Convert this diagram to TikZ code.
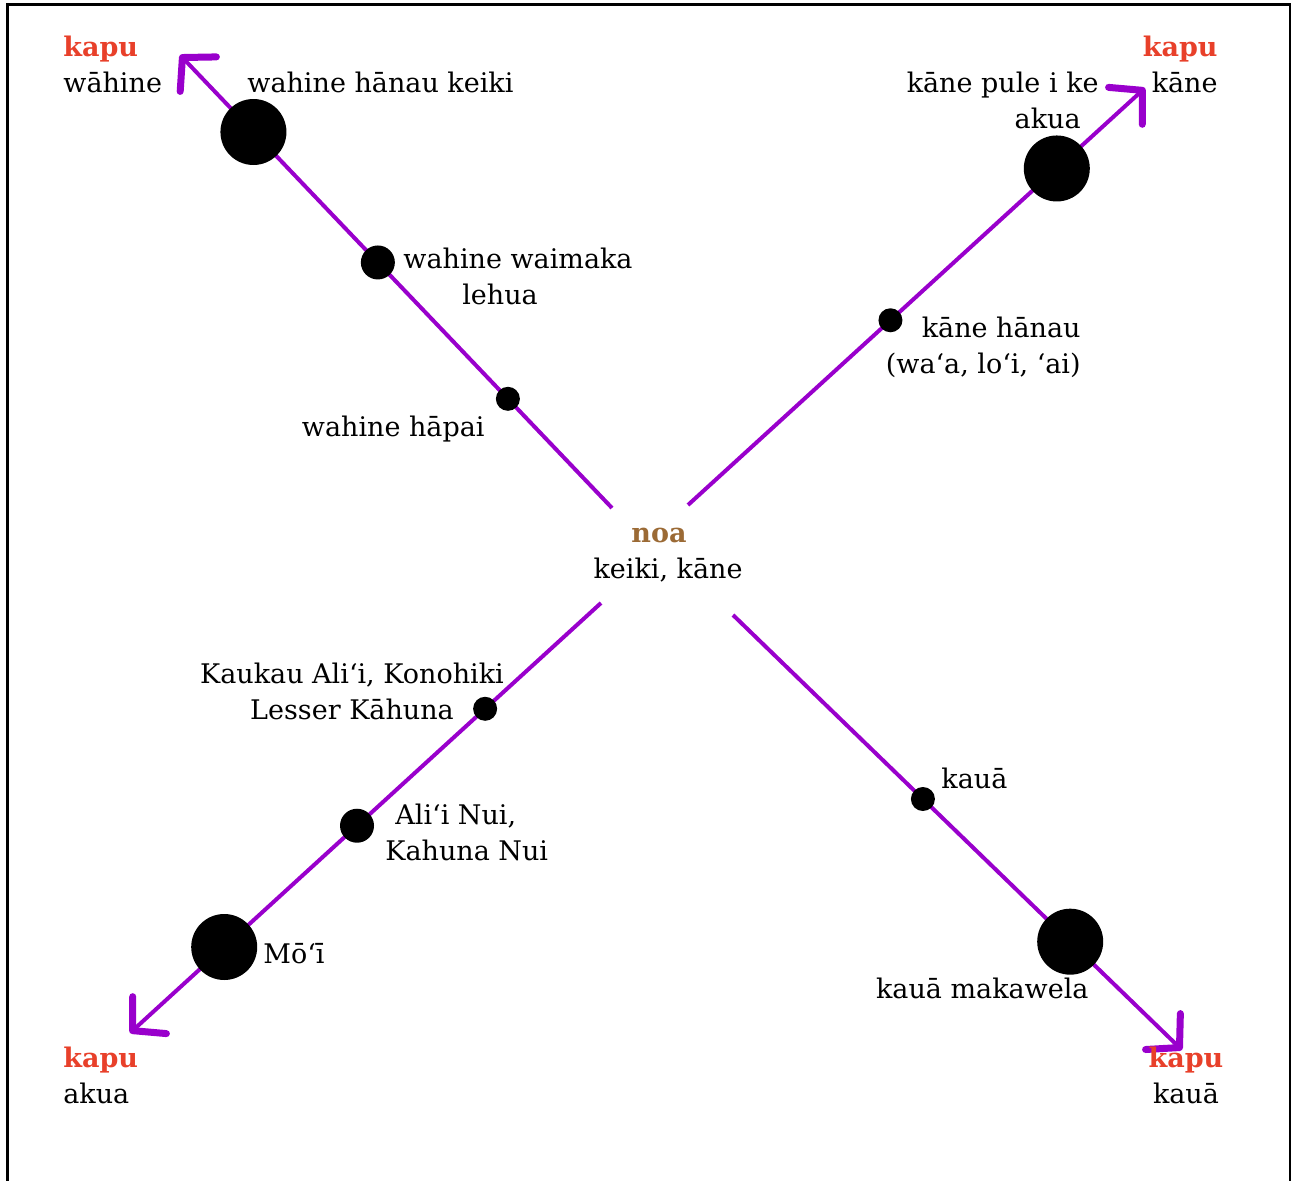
\documentclass[tikz,border=0pt]{standalone}
\usepackage{fontspec}
\setmainfont{DejaVu Serif}
\usepackage{xcolor}
\usetikzlibrary{arrows.meta,calc}
\definecolor{kapured}{HTML}{E8402A}
\definecolor{noabrown}{HTML}{9B6A35}
\definecolor{axispurple}{HTML}{9900CC}
\newcommand{\kapuword}{\textcolor{kapured}{\textbf{kapu}}}

\begin{document}
\begin{tikzpicture}[x=0.5pt,y=-0.5pt,
  axis/.style={line width=2pt,color=axispurple,
    -{Straight Barb[length=11.5pt,width=25pt,line width=3.5pt,round]}},
  bigdot/.style={circle,fill=black,inner sep=0pt,minimum size=33pt},
  middot/.style={circle,fill=black,inner sep=0pt,minimum size=17pt},
  smalldot/.style={circle,fill=black,inner sep=0pt,minimum size=12pt},
  lbl/.style={inner sep=0pt,font=\fontsize{13.5pt}{18pt}\selectfont}]
\useasboundingbox (0,0) rectangle (1291,1181);
\draw[line width=1.5pt] (7,1181) |- (1290,5) -- (1290,1181);

% the four axes
\coordinate (nwS) at (612,508);  \coordinate (nwT) at (180,55);
\coordinate (neS) at (688,505);  \coordinate (neT) at (1145,88);
\coordinate (swS) at (601,603);  \coordinate (swT) at (130,1033);
\coordinate (seS) at (733,615);  \coordinate (seT) at (1182,1050);
\draw[axis] (nwS) -- (nwT);
\draw[axis] (neS) -- (neT);
\draw[axis] (swS) -- (swT);
\draw[axis] (seS) -- (seT);

% dots
\node[smalldot] (dotNW1) at ($(nwS)!0.241!(nwT)$) {};
\node[middot]   (dotNW2) at ($(nwS)!0.542!(nwT)$) {};
\node[bigdot]   (dotNW3) at ($(nwS)!0.830!(nwT)$) {};
\node[smalldot] (dotNE1) at ($(neS)!0.443!(neT)$) {};
\node[bigdot]   (dotNE2) at ($(neS)!0.807!(neT)$) {};
\node[smalldot] (dotSW1) at ($(swS)!0.246!(swT)$) {};
\node[middot]   (dotSW2) at ($(swS)!0.518!(swT)$) {};
\node[bigdot]   (dotSW3) at ($(swS)!0.800!(swT)$) {};
\node[smalldot] (dotSE1) at ($(seS)!0.423!(seT)$) {};
\node[bigdot]   (dotSE2) at ($(seS)!0.751!(seT)$) {};

% corner tags
\node[lbl,align=left,anchor=north west] (tagNW) at (63,36) {\kapuword\\wāhine};
\node[lbl,align=right,anchor=north east] (tagNE) at (1218,36) {\kapuword\\kāne};
\node[lbl,align=left,anchor=north west] (tagSW) at (63,1047) {\kapuword\\akua};
\node[lbl,align=center,anchor=north] (tagSE) at (1186,1047) {\kapuword\\kauā};
\node[lbl,align=center,anchor=north] (noa) at (668,528)
  {\textcolor{noabrown}{\textbf{noa}}\hspace*{9pt}\\keiki, kāne};

% labels
\node[lbl,anchor=base west] (hanauKeiki) at (247,93) {wahine hānau keiki};
\node[lbl,align=center,anchor=north] (waimaka) at (518,248)
  {wahine waimaka\\lehua\hspace*{18pt}};
\node[lbl,anchor=base east] (hapai) at (485,437) {wahine hāpai};
\node[lbl,align=right,anchor=north east] (pule) at (1099,72)
  {kāne pule i ke\\akua\hspace*{9pt}};
\node[lbl,align=right,anchor=north east] (kaneHanau) at (1081,317)
  {kāne hānau\\(wa‘a, lo‘i, ‘ai)};
\node[lbl,align=center,anchor=north] (kaukau) at (352,663)
  {Kaukau Ali‘i, Konohiki\\Lesser Kāhuna};
\node[lbl,align=left,anchor=north west] (aliiNui) at (385,804)
  {\hspace*{5pt}Ali‘i Nui,\\Kahuna Nui};
\node[lbl,anchor=base west] (moi) at (263,963) {Mō‘ī};
\node[lbl,anchor=base west] (kaua) at (941,788) {kauā};
\node[lbl,anchor=base east] (makawela) at (1089,998) {kauā makawela};
\end{tikzpicture}
\end{document}
